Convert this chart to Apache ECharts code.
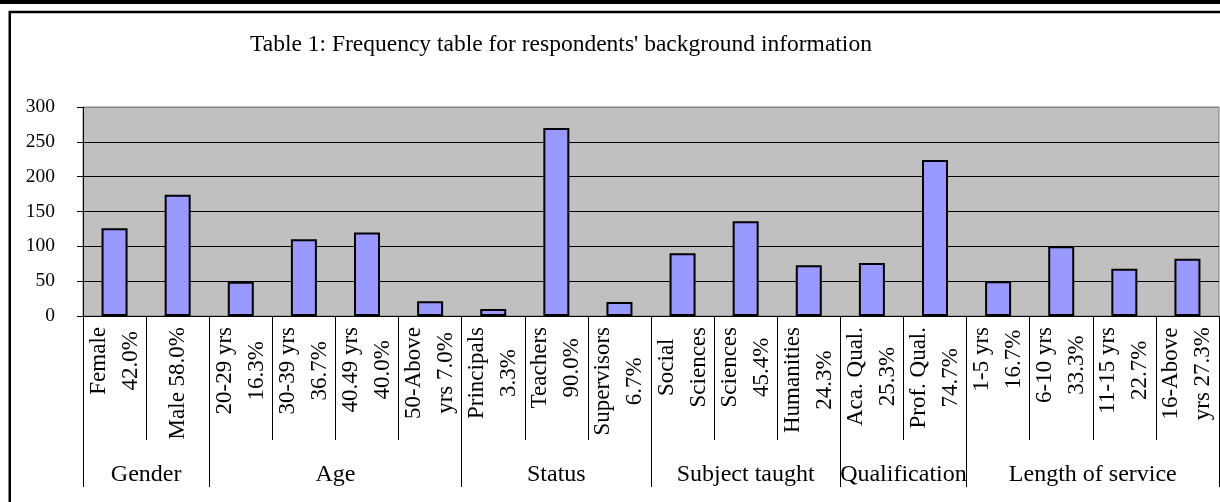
<!DOCTYPE html>
<html>
<head>
<meta charset="utf-8">
<title>Frequency table for respondents' background information</title>
<script src="https://cdn.jsdelivr.net/npm/echarts@6/dist/echarts.min.js"></script>
<style>
  html, body { margin: 0; padding: 0; background: #ffffff; }
  #chart { width: 1220px; height: 502px; }
</style>
</head>
<body>
<div id="chart"></div>
<script>
// Respondent categories (two-line labels) and their frequencies
const categories = [
  'Female\n42.0%', 'Male 58.0%',
  '20-29 yrs\n16.3%', '30-39 yrs\n36.7%', '40.49 yrs\n40.0%', '50-Above\nyrs 7.0%',
  'Principals\n3.3%', 'Teachers\n90.0%', 'Supervisors\n6.7%',
  'Social\nSciences', 'Sciences\n45.4%', 'Humanities\n24.3%',
  'Aca. Qual.\n25.3%', 'Prof. Qual.\n74.7%',
  '1-5 yrs\n16.7%', '6-10 yrs\n33.3%', '11-15 yrs\n22.7%', '16-Above\nyrs 27.3%'
];
const frequencies = [126, 174, 49, 110, 120, 21, 10, 270, 20, 90, 136, 73, 76, 224, 50, 100, 68, 82];

// Groups of categories shown under the axis
const groupNames = ['Gender', 'Age', 'Status', 'Subject taught', 'Qualification', 'Length of service'];
const groupSizes = [2, 4, 3, 3, 2, 4];

const yTicks = [0, 50, 100, 150, 200, 250, 300];

const FONT = 'Liberation Serif';

// Boundaries and centres of the groups, in category units
const groupEdges = [0];
groupSizes.forEach(function (n) { groupEdges.push(groupEdges[groupEdges.length - 1] + n); });
const groupCentres = groupSizes.map(function (n, i) { return groupEdges[i] + n / 2; });

const chart = echarts.init(document.getElementById('chart'), null, { renderer: 'canvas' });

chart.setOption({
  backgroundColor: '#ffffff',
  animation: false,
  textStyle: { fontFamily: FONT },
  title: {
    text: "Table 1: Frequency table for respondents' background information",
    left: 245,
    top: 28,
    textStyle: { fontFamily: FONT, fontSize: 23.5, fontWeight: 'normal', color: '#000' }
  },
  graphic: [
    { type: 'rect', silent: true, shape: { x: 0, y: 0, width: 1220, height: 4 }, style: { fill: '#000' } },
    { type: 'rect', silent: true, shape: { x: 9.75, y: 12, width: 1400, height: 700 },
      style: { fill: 'none', stroke: '#000', lineWidth: 2.5 } }
  ],
  grid: {
    left: 83, right: 1, top: 107, bottom: 186,
    show: true, backgroundColor: '#c0c0c0', borderColor: '#808080', borderWidth: 1
  },
  xAxis: [
    {
      type: 'category',
      data: categories,
      boundaryGap: true,
      axisLine: { show: true, lineStyle: { color: '#000', width: 1 } },
      axisTick: { show: true, interval: 0, length: 124, lineStyle: { color: '#000', width: 1 } },
      axisLabel: {
        interval: 0,
        rotate: 90,
        margin: 11,
        color: '#000',
        fontFamily: FONT,
        fontSize: 23,
        lineHeight: 32,
        formatter: function (v) {
          return v.split('\n').map(function (s) { return '{c|' + s + '}'; }).join('\n');
        },
        rich: { c: { align: 'center', fontFamily: FONT, fontSize: 23, lineHeight: 32, color: '#000' } }
      }
    },
    {
      type: 'value',
      position: 'bottom',
      min: 0,
      max: categories.length,
      splitLine: { show: false },
      axisLine: { show: false },
      axisTick: { show: true, customValues: groupEdges, length: 171, lineStyle: { color: '#000', width: 1 } },
      axisLabel: {
        customValues: groupCentres,
        margin: 147,
        color: '#000',
        fontFamily: FONT,
        fontSize: 24,
        formatter: function (v) {
          const i = groupCentres.indexOf(v);
          return i >= 0 ? groupNames[i] : '';
        }
      }
    }
  ],
  yAxis: {
    type: 'value',
    min: yTicks[0],
    max: yTicks[yTicks.length - 1],
    interval: yTicks[1] - yTicks[0],
    axisLine: { show: true, lineStyle: { color: '#000', width: 1 } },
    axisTick: { show: true, length: 6, lineStyle: { color: '#000' } },
    axisLabel: { margin: 28, color: '#000', fontFamily: FONT, fontSize: 19.5 },
    splitLine: {
      show: true,
      lineStyle: { color: ['#000', '#000', '#000', '#000', '#000', '#000', '#808080'], width: 1 }
    }
  },
  series: [{
    type: 'bar',
    xAxisIndex: 0,
    data: frequencies,
    barWidth: 26,
    itemStyle: { color: '#9999ff', borderColor: '#000', borderWidth: 2 }
  }]
});
</script>
</body>
</html>
